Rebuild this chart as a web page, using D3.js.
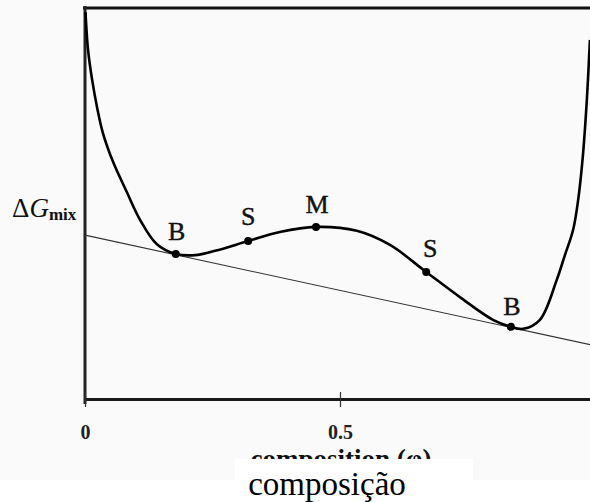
<!DOCTYPE html>
<html>
<head>
<meta charset="utf-8">
<script src="https://cdn.jsdelivr.net/npm/d3@7"></script>
<style>
  html, body { margin: 0; padding: 0; background: #fff; overflow: hidden; }
  svg { display: block; }
</style>
</head>
<body>
<svg id="chart" width="590" height="502"></svg>
<script>
// Free energy of mixing vs composition (arbitrary units)
const composition = [0.001, 0.003, 0.006, 0.014, 0.024, 0.035, 0.055, 0.082, 0.108, 0.141,
  0.178, 0.216, 0.255, 0.320, 0.382, 0.453, 0.533, 0.598, 0.669, 0.735,
  0.800, 0.835, 0.859, 0.892, 0.925, 0.941, 0.957, 0.967, 0.976, 0.984, 0.990];
const deltaG = [0.987, 0.941, 0.890, 0.814, 0.742, 0.679, 0.605, 0.528, 0.457, 0.395,
  0.370, 0.367, 0.378, 0.403, 0.426, 0.439, 0.429, 0.393, 0.324, 0.260,
  0.202, 0.184, 0.179, 0.202, 0.304, 0.367, 0.431, 0.508, 0.617, 0.763, 0.916];

// Common tangent through the two binodal points
const tangentComposition = [0, 1];
const tangentDeltaG = [0.418, 0.136];

// Binodal (B), spinodal (S) and maximum (M) points on the curve
const markerNames = ["B", "S", "M", "S", "B"];
const markerComposition = [0.178, 0.320, 0.453, 0.669, 0.835];
const markerDeltaG = [0.370, 0.403, 0.439, 0.324, 0.184];

const tickValues = [0, 0.5];
const tickLabels = ["0", "0.5"];

const svg = d3.select("#chart");
const serif = "'Liberation Serif', 'Times New Roman', 'DejaVu Serif', serif";

// faint tint of the printed figure area
svg.append("rect").attr("x", 0).attr("y", 0).attr("width", 590).attr("height", 480)
  .attr("fill", "#fafafa");

const x = d3.scaleLinear().domain([0, 1]).range([85, 595]);
const y = d3.scaleLinear().domain([0, 1]).range([399, 7]);

// frame: top and left edges
svg.append("line")
  .attr("x1", x(0) - 2).attr("x2", 590)
  .attr("y1", y(1) + 1).attr("y2", y(1) + 1)
  .attr("stroke", "#111").attr("stroke-width", 3);
svg.append("line")
  .attr("x1", x(0)).attr("x2", x(0))
  .attr("y1", y(1) - 1).attr("y2", y(0) + 5)
  .attr("stroke", "#222").attr("stroke-width", 3);

// bottom axis
const xAxis = d3.axisBottom(x)
  .tickValues(tickValues)
  .tickFormat((d, i) => tickLabels[i])
  .tickSizeOuter(0);
const gx = svg.append("g").attr("transform", `translate(0,${y(0)})`).call(xAxis);
gx.select(".domain").attr("stroke", "#1a1a1a").attr("stroke-width", 3);
gx.selectAll(".tick line").attr("y1", -7).attr("y2", 8)
  .attr("stroke", "#333").attr("stroke-width", 1.2);
gx.selectAll(".tick text")
  .attr("y", 40).attr("dy", 0)
  .attr("fill", "#222")
  .style("font-family", serif)
  .style("font-size", "20px")
  .style("font-weight", "bold");

// tangent line
const tangentPts = tangentComposition.map((c, i) => [c, tangentDeltaG[i]]);
svg.append("path")
  .datum(tangentPts)
  .attr("d", d3.line().x(d => x(d[0])).y(d => y(d[1])))
  .attr("fill", "none").attr("stroke", "#333").attr("stroke-width", 1.1);

// free-energy curve
const curvePts = composition.map((c, i) => [c, deltaG[i]]);
svg.append("path")
  .datum(curvePts)
  .attr("d", d3.line().curve(d3.curveCatmullRom.alpha(0.5)).x(d => x(d[0])).y(d => y(d[1])))
  .attr("fill", "none").attr("stroke", "#000").attr("stroke-width", 2.6)
  .attr("stroke-linejoin", "round");

// marked points with letter labels
const labelShift = [{ dx: 1, dy: -14 }, { dx: 0, dy: -16 }, { dx: 1, dy: -14 }, { dx: 4, dy: -15 }, { dx: 1, dy: -12 }];
const markers = markerNames.map((n, i) => ({ name: n, c: markerComposition[i], g: markerDeltaG[i], s: labelShift[i] }));
svg.selectAll("circle.pt").data(markers).join("circle")
  .attr("class", "pt")
  .attr("cx", d => x(d.c)).attr("cy", d => y(d.g)).attr("r", 4)
  .attr("fill", "#000");
svg.selectAll("text.pt").data(markers).join("text")
  .attr("class", "pt")
  .attr("x", d => x(d.c) + d.s.dx).attr("y", d => y(d.g) + d.s.dy)
  .attr("text-anchor", "middle")
  .attr("fill", "#111")
  .attr("stroke", "#111").attr("stroke-width", 0.4)
  .style("font-family", serif).style("font-size", "26px")
  .text(d => d.name);

// y-axis label ΔG_mix
const yl = svg.append("text").attr("x", 12).attr("y", 217)
  .attr("fill", "#111")
  .style("font-family", serif).style("font-size", "27px");
yl.append("tspan").text("Δ");
yl.append("tspan").style("font-style", "italic").text("G");
yl.append("tspan").attr("dy", 3).style("font-size", "17px").style("font-weight", "bold").text("mix");

// printed axis title (lower part hidden under the caption panel)
svg.append("text").attr("x", 341).attr("y", 468)
  .attr("text-anchor", "middle").attr("fill", "#111")
  .style("font-family", serif).style("font-size", "27px").style("font-weight", "bold")
  .text("composition (φ)");

// caption panel
svg.append("rect").attr("x", 235).attr("y", 459).attr("width", 238).attr("height", 43)
  .attr("fill", "#fff");
svg.append("text").attr("x", 327).attr("y", 495)
  .attr("text-anchor", "middle").attr("fill", "#000")
  .style("font-family", serif).style("font-size", "33px")
  .text("composição");
</script>
</body>
</html>
